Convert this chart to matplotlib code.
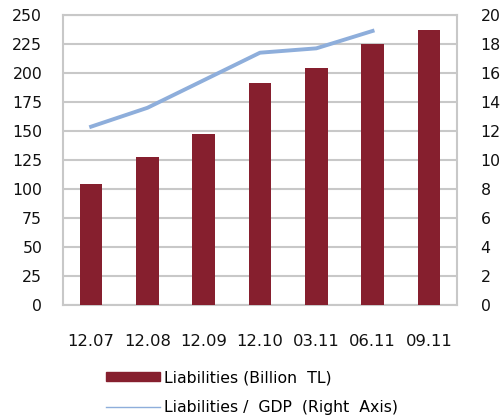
import numpy as np
import matplotlib.pyplot as plt
from matplotlib.lines import Line2D
from matplotlib.patches import Patch

categories = ['12.07', '12.08', '12.09', '12.10', '03.11', '06.11', '09.11']
liabilities = [104, 128, 147, 191, 204, 225, 237]
liab_gdp = [12.3, 13.6, 15.5, 17.4, 17.7, 18.9]

BAR_COLOR = '#861f2e'
LINE_COLOR = '#8eaedb'
GRID_COLOR = '#c8c8c8'

plt.rcParams['font.family'] = 'DejaVu Sans'

fig = plt.figure(figsize=(5.03, 4.19), dpi=100)
ax = fig.add_axes([63 / 503, 1 - 305 / 419, (457 - 63) / 503, (305 - 15) / 419])

x = np.arange(len(categories))
ax.bar(x, liabilities, width=0.4, color=BAR_COLOR, zorder=3)
ax.set_xlim(-0.5, len(categories) - 0.5)
ax.set_ylim(0, 250)
ax.set_yticks(np.arange(0, 251, 25))
ax.set_xticks(x)
ax.set_xticklabels(categories)
ax.grid(axis='y', color=GRID_COLOR, linewidth=1.5, zorder=0)
ax.tick_params(length=0, labelsize=11.3, colors='#111111')
ax.tick_params(axis='x', pad=21, labelsize=11.8)
ax.tick_params(axis='y', pad=15)
for s in ax.spines.values():
    s.set_color(GRID_COLOR)
    s.set_linewidth(1.5)

ax2 = ax.twinx()
ax2.plot(x[:len(liab_gdp)], liab_gdp, color=LINE_COLOR, linewidth=2.8, zorder=4)
ax2.set_ylim(0, 20)
ax2.set_yticks(np.arange(0, 21, 2))
ax2.tick_params(length=0, labelsize=11.3, colors='#111111', pad=17)
for s in ax2.spines.values():
    s.set_visible(False)

handles = [Patch(color=BAR_COLOR), Line2D([0], [0], color=LINE_COLOR, linewidth=1)]
labels = ['Liabilities (Billion  TL)', 'Liabilities /  GDP  (Right  Axis)']
fig.legend(handles, labels, loc='upper left', bbox_to_anchor=(100 / 503, 1 - 364 / 419),
           frameon=False, fontsize=11.3, handlelength=3.4, handleheight=0.55,
           handletextpad=0.3, labelspacing=0.95, borderaxespad=0)

fig.savefig('out.png', dpi=100)
